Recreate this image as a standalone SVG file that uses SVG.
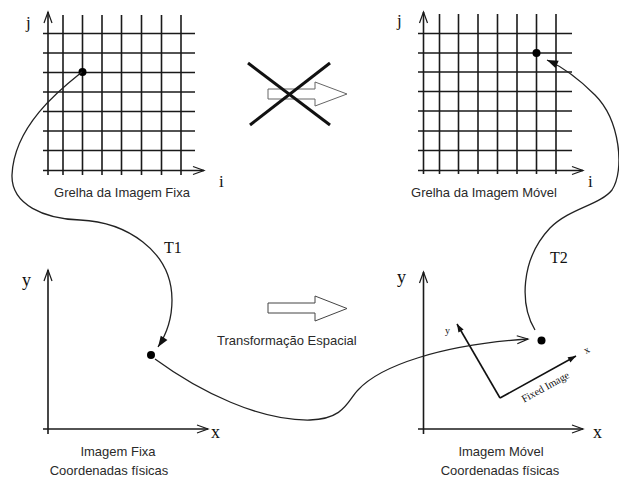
<svg xmlns="http://www.w3.org/2000/svg" width="619" height="484" viewBox="0 0 619 484">
<defs>
<style>
.bg{fill:#fff}
.grid line{stroke:#1a1a1a;stroke-width:1.6}
.ax{stroke:#1a1a1a;stroke-width:1.6;fill:none}
.conn{stroke:#222;stroke-width:1.3;fill:none}
.lbl{font-family:"Liberation Sans",Arial,sans-serif;font-size:13px;fill:#2a2a2a}
.ser{font-family:"Liberation Serif","Times New Roman",serif;fill:#111}
.dot{fill:#000}
</style>
<marker id="open" markerUnits="userSpaceOnUse" markerWidth="14" markerHeight="12" refX="11" refY="5" orient="auto" overflow="visible">
<path d="M0,1 L11,5 L0,9" fill="none" stroke="#1a1a1a" stroke-width="1.2"/>
</marker>
<marker id="fill" markerUnits="userSpaceOnUse" markerWidth="14" markerHeight="12" refX="11" refY="4" orient="auto" overflow="visible">
<path d="M0,0 L11,4 L0,8 Z" fill="#111"/>
</marker>
<marker id="small" markerUnits="userSpaceOnUse" markerWidth="10" markerHeight="8" refX="8" refY="3" orient="auto" overflow="visible">
<path d="M0,0 L8,3 L0,6 Z" fill="#111"/>
</marker>
</defs>
<rect class="bg" x="0" y="0" width="619" height="484"/>

<g id="grid-fixa">
<g class="grid">
<line x1="63" y1="15" x2="63" y2="175"/>
<line x1="82.5" y1="15" x2="82.5" y2="175"/>
<line x1="102" y1="15" x2="102" y2="175"/>
<line x1="121.5" y1="15" x2="121.5" y2="175"/>
<line x1="141.5" y1="15" x2="141.5" y2="175"/>
<line x1="161.5" y1="15" x2="161.5" y2="175"/>
<line x1="181" y1="15" x2="181" y2="175"/>
<line x1="43" y1="33.5" x2="195" y2="33.5"/>
<line x1="43" y1="53" x2="195" y2="53"/>
<line x1="43" y1="72.5" x2="195" y2="72.5"/>
<line x1="43" y1="92" x2="195" y2="92"/>
<line x1="43" y1="111.5" x2="195" y2="111.5"/>
<line x1="43" y1="131" x2="195" y2="131"/>
<line x1="43" y1="150.5" x2="195" y2="150.5"/>
</g>
<line class="ax" x1="48" y1="175" x2="48" y2="12" marker-end="url(#open)"/>
<line class="ax" x1="43" y1="170.5" x2="204" y2="170.5" marker-end="url(#open)"/>
<text class="ser" x="26" y="28" font-size="17">j</text>
<text class="ser" x="219" y="187" font-size="17">i</text>
<circle class="dot" cx="82.5" cy="72" r="4"/>
<text class="lbl" x="122" y="197" text-anchor="middle">Grelha da Imagem Fixa</text>
</g>

<g id="grid-movel">
<g class="grid">
<line x1="439.5" y1="14" x2="439.5" y2="174"/>
<line x1="458.5" y1="14" x2="458.5" y2="174"/>
<line x1="478" y1="14" x2="478" y2="174"/>
<line x1="497.5" y1="14" x2="497.5" y2="174"/>
<line x1="517" y1="14" x2="517" y2="174"/>
<line x1="536.5" y1="14" x2="536.5" y2="174"/>
<line x1="556" y1="14" x2="556" y2="174"/>
<line x1="418" y1="33.5" x2="572" y2="33.5"/>
<line x1="418" y1="53" x2="572" y2="53"/>
<line x1="418" y1="72" x2="572" y2="72"/>
<line x1="418" y1="91.5" x2="572" y2="91.5"/>
<line x1="418" y1="111" x2="572" y2="111"/>
<line x1="418" y1="131" x2="572" y2="131"/>
<line x1="418" y1="150.5" x2="572" y2="150.5"/>
</g>
<line class="ax" x1="423.5" y1="174" x2="423.5" y2="12" marker-end="url(#open)"/>
<line class="ax" x1="418" y1="170.5" x2="583" y2="170.5" marker-end="url(#open)"/>
<text class="ser" x="397" y="26" font-size="17">j</text>
<text class="ser" x="588" y="187" font-size="17">i</text>
<circle class="dot" cx="536.5" cy="53" r="4"/>
<text class="lbl" x="484" y="197" text-anchor="middle">Grelha da Imagem Móvel</text>
</g>

<g id="no-direct">
<polygon points="268,89 315,89 315,82 347,94 315,106 315,99 268,99" fill="#fff" stroke="#666" stroke-width="1"/>
<line x1="248" y1="63" x2="330" y2="125" stroke="#111" stroke-width="3"/>
<line x1="330" y1="63" x2="250" y2="125" stroke="#111" stroke-width="3"/>
</g>

<g id="fisica-fixa">
<line class="ax" x1="48" y1="434" x2="48" y2="270" marker-end="url(#open)"/>
<line class="ax" x1="43" y1="429" x2="208" y2="429" marker-end="url(#open)"/>
<text class="ser" x="22" y="286" font-size="18">y</text>
<text class="ser" x="211" y="438" font-size="18">x</text>
<circle class="dot" cx="151" cy="355" r="4"/>
<text class="lbl" x="118" y="456" text-anchor="middle">Imagem Fixa</text>
<text class="lbl" x="109" y="475" text-anchor="middle">Coordenadas  físicas</text>
</g>

<g id="transformacao">
<polygon points="268,303 315,303 315,296 347,308.5 315,321 315,313 268,313" fill="#fff" stroke="#444" stroke-width="1"/>
<text class="lbl" x="217" y="345">Transformação Espacial</text>
</g>

<g id="fisica-movel">
<line class="ax" x1="423.5" y1="434" x2="423.5" y2="272" marker-end="url(#open)"/>
<line class="ax" x1="418" y1="429" x2="583" y2="429" marker-end="url(#open)"/>
<text class="ser" x="397" y="283" font-size="18">y</text>
<text class="ser" x="593" y="438" font-size="18">x</text>
<line x1="500" y1="398" x2="457" y2="324" stroke="#111" stroke-width="1.6" marker-end="url(#small)"/>
<line x1="500" y1="398" x2="576" y2="356" stroke="#111" stroke-width="1.6" marker-end="url(#small)"/>
<text class="ser" x="445" y="334" font-size="10">y</text>
<text class="ser" transform="translate(586,354) rotate(-29)" font-size="10">x</text>
<text class="ser" transform="translate(547,390) rotate(-29)" font-size="10.5" text-anchor="middle">Fixed Image</text>
<circle class="dot" cx="541.5" cy="340.5" r="4"/>
<text class="lbl" x="501" y="456" text-anchor="middle">Imagem Móvel</text>
<text class="lbl" x="500" y="475" text-anchor="middle">Coordenadas  físicas</text>
</g>

<g id="connectors">
<path class="conn" d="M82,72 C62,88 14,125 12,175 C11,205 45,219 80,220 C125,222 172,250 172,300 C172,320 166,335 158,347" marker-end="url(#fill)"/>
<text class="ser" x="164" y="253" font-size="16">T1</text>
<path class="conn" d="M155,359 C200,392 260,421 310,420 C345,419 348,400 358,390 C380,366 440,345 528,339" marker-end="url(#open)"/>
<path class="conn" d="M535,330 C520,305 520,260 550,228 C570,208 600,205 612,190 C625,170 620,120 595,95 C580,80 565,68 547,60" marker-end="url(#fill)"/>
<text class="ser" x="550" y="263" font-size="16">T2</text>
</g>
</svg>
